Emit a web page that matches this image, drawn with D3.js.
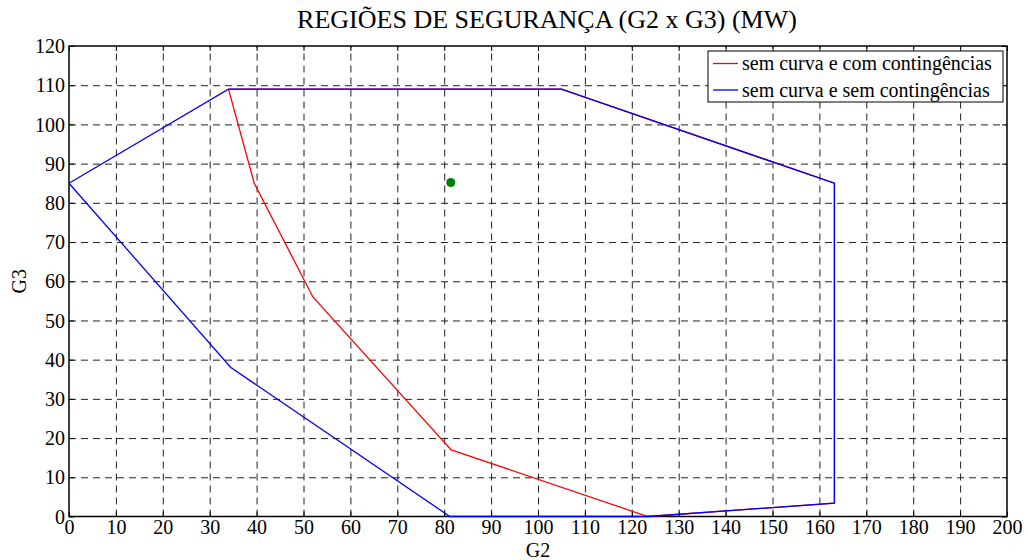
<!DOCTYPE html>
<html>
<head>
<meta charset="utf-8">
<script src="https://cdn.jsdelivr.net/npm/d3@7"></script>
<style>
	body { margin: 0; background: #fff; }
	.grid line { stroke: #222; stroke-dasharray: 7,5; stroke-width: 1; }
	.grid .domain { display: none; }
	.axis .domain { display: none; }
	.axis line { stroke: #000; }
</style>
</head>
<body>
<div id="chart"></div>
<script>
// Data
var redG2 = [34, 39.5, 52, 81.5, 123.4, 163.2, 163.2, 105, 34];
var redG3 = [109, 85, 56, 17, 0, 3.4, 85, 109, 109];
var blueG2 = [0, 34, 105, 163.2, 163.2, 123.4, 81.2, 34.5, 0];
var blueG3 = [85, 109, 109, 85, 3.4, 0, 0, 38, 85];
var pointG2 = [81.4];
var pointG3 = [85.2];
var seriesNames = ['sem curva e com contingências', 'sem curva e sem contingências'];
var xTicks = d3.range(0, 201, 10);
var yTicks = d3.range(0, 121, 10);

var FONT = "'Liberation Serif', 'Times New Roman', serif";
var width = 1028, height = 560;
var margins = { top: 46, right: 21, bottom: 43.5, left: 69 };
var chartWidth = width - margins.left - margins.right;
var chartHeight = height - margins.top - margins.bottom;

var svg = d3.select('#chart').append('svg')
	.attr('width', width)
	.attr('height', height)
	.style('font-family', FONT);

var chartElement = svg.append('g')
	.attr('transform', 'translate(' + margins.left + ',' + margins.top + ')');

var xScale = d3.scaleLinear().domain([0, 200]).range([0, chartWidth]);
var yScale = d3.scaleLinear().domain([0, 120]).range([chartHeight, 0]);

// Grid
chartElement.append('g')
	.attr('class', 'x grid')
	.attr('transform', 'translate(0,' + chartHeight + ')')
	.call(d3.axisBottom(xScale).tickValues(xTicks.slice(1, -1)).tickSize(-chartHeight).tickFormat(''));
chartElement.append('g')
	.attr('class', 'y grid')
	.call(d3.axisLeft(yScale).tickValues(yTicks.slice(1, -1)).tickSize(-chartWidth).tickFormat(''));

// Frame
chartElement.append('rect')
	.attr('width', chartWidth)
	.attr('height', chartHeight)
	.attr('fill', 'none')
	.attr('stroke', '#000')
	.attr('stroke-width', 1.5);

// Axes with inside ticks
var axes = [
	chartElement.append('g')
		.attr('class', 'x axis')
		.attr('transform', 'translate(0,' + chartHeight + ')')
		.call(d3.axisBottom(xScale).tickValues(xTicks).tickSizeInner(-5).tickSizeOuter(0).tickPadding(5)),
	chartElement.append('g')
		.attr('class', 'x axis')
		.call(d3.axisTop(xScale).tickValues(xTicks).tickSizeInner(-5).tickSizeOuter(0).tickFormat('')),
	chartElement.append('g')
		.attr('class', 'y axis')
		.call(d3.axisLeft(yScale).tickValues(yTicks).tickSizeInner(-5).tickSizeOuter(0).tickPadding(4)),
	chartElement.append('g')
		.attr('class', 'y axis')
		.attr('transform', 'translate(' + chartWidth + ',0)')
		.call(d3.axisRight(yScale).tickValues(yTicks).tickSizeInner(-5).tickSizeOuter(0).tickFormat(''))
];
axes.forEach(function(a) {
	a.attr('font-family', FONT).attr('font-size', 20);
});

chartElement.selectAll('.x.axis text').attr('dy', '0.62em');
chartElement.selectAll('.y.axis text').attr('dy', '0.33em');

// Lines
var line = d3.line()
	.x(function(d) { return xScale(d[0]); })
	.y(function(d) { return yScale(d[1]); });

var redPts = redG2.map(function(v, i) { return [v, redG3[i]]; });
var bluePts = blueG2.map(function(v, i) { return [v, blueG3[i]]; });

chartElement.append('path')
	.attr('d', line(redPts))
	.attr('fill', 'none')
	.attr('stroke', '#ff0000')
	.attr('stroke-width', 1.3);
chartElement.append('path')
	.attr('d', line(bluePts))
	.attr('fill', 'none')
	.attr('stroke', '#0000ff')
	.attr('stroke-width', 1.3);

chartElement.selectAll('circle.pt')
	.data(pointG2)
	.enter()
	.append('circle')
	.attr('class', 'pt')
	.attr('cx', function(d) { return xScale(d); })
	.attr('cy', function(d, i) { return yScale(pointG3[i]); })
	.attr('r', 4.5)
	.attr('fill', '#008000');

// Legend
var legend = chartElement.append('g')
	.attr('transform', 'translate(' + (chartWidth - 299) + ',5)');
legend.append('rect')
	.attr('width', 295)
	.attr('height', 51)
	.attr('fill', '#fff')
	.attr('stroke', '#000')
	.attr('stroke-width', 1);
var legendColors = ['#ff0000', '#0000ff'];
seriesNames.forEach(function(name, i) {
	var y = 12.5 + i * 26.5;
	legend.append('line')
		.attr('x1', 5).attr('x2', 30)
		.attr('y1', y).attr('y2', y)
		.attr('stroke', legendColors[i])
		.attr('stroke-width', 1.3);
	legend.append('text')
		.attr('x', 34)
		.attr('y', y)
		.attr('dy', '0.33em')
		.style('font-family', FONT)
		.style('font-size', '20px')
		.text(name);
});

// Titles
svg.append('text')
	.attr('x', 547)
	.attr('y', 28)
	.attr('text-anchor', 'middle')
	.style('font-size', '26px')
	.text('REGIÕES DE SEGURANÇA (G2 x G3) (MW)');

svg.append('text')
	.attr('x', margins.left + chartWidth / 2)
	.attr('y', 557)
	.attr('text-anchor', 'middle')
	.style('font-size', '20px')
	.text('G2');

svg.append('text')
	.attr('transform', 'translate(26,' + (margins.top + chartHeight / 2) + ') rotate(-90)')
	.attr('text-anchor', 'middle')
	.style('font-size', '20px')
	.text('G3');
</script>
</body>
</html>
